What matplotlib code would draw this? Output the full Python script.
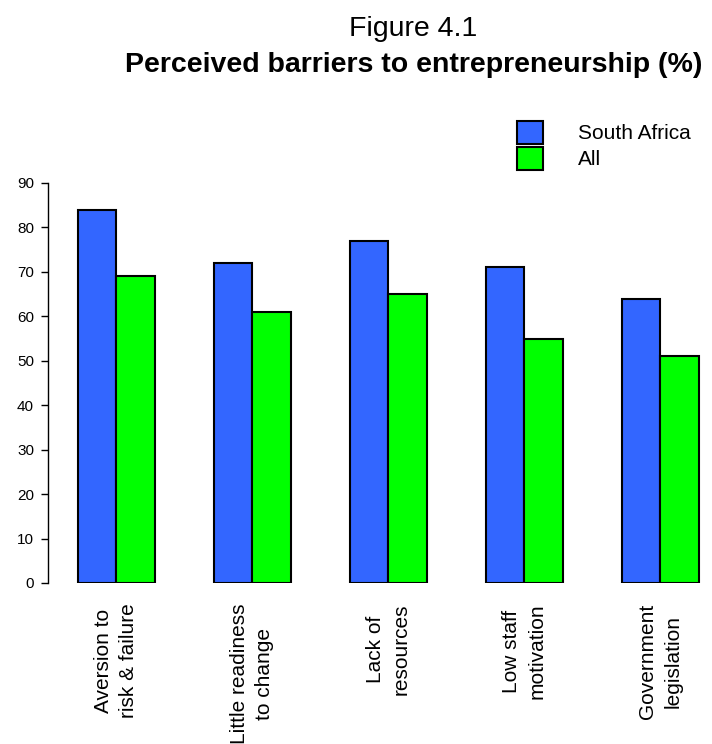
import numpy as np
import matplotlib
matplotlib.use("Agg")
import matplotlib.pyplot as plt

plt.rcParams['font.family'] = ['Liberation Sans', 'DejaVu Sans']

# Data
categories = ["Aversion to\nrisk & failure", "Little readiness\nto change",
              "Lack of\nresources", "Low staff\nmotivation", "Government\nlegislation"]
south_africa = [84, 72, 77, 71, 64]
all_countries = [69, 61, 65, 55, 51]
yticks = [0, 10, 20, 30, 40, 50, 60, 70, 80, 90]

fig = plt.figure(figsize=(7.12, 7.44), dpi=100)
ax = fig.add_axes([48 / 712, 161 / 744, 664 / 712, 400 / 744])

x = np.arange(len(categories))
w = 0.283
ax.bar(x - w / 2, south_africa, w, color="#3366FF", edgecolor="black",
       linewidth=1.5, label="South Africa")
ax.bar(x + w / 2, all_countries, w, color="#00FF00", edgecolor="black",
       linewidth=1.5, label="All")

ax.set_xlim(-0.5, 4.38)
ax.set_ylim(0, 90)
ax.set_yticks(yticks)
ax.tick_params(axis="y", direction="out", length=5, width=1, pad=5, labelsize=11)
ax.set_xticks([])

for s in ["top", "right", "bottom"]:
    ax.spines[s].set_visible(False)
ax.spines["left"].set_linewidth(1)

# category labels hang below the bars, rotated
for xi, lab in zip(x, categories):
    ax.text(xi, -4.6, lab, rotation=90, ha="center", va="top",
            multialignment="center", fontsize=15, linespacing=1.4,
            clip_on=False)

fig.text(413 / 712, 1 - 36 / 744, "Figure 4.1", ha="center", va="baseline", fontsize=20.5)
fig.text(414 / 712, 1 - 72 / 744, "Perceived barriers to entrepreneurship (%)",
         ha="center", va="baseline", fontsize=20.5, fontweight="bold")

ax.legend(loc="upper left", bbox_to_anchor=(517 / 712, 1 - 121 / 744),
          bbox_transform=fig.transFigure, frameon=False, fontsize=15,
          handlelength=1.25, handleheight=1.3, labelspacing=0.15,
          handletextpad=1.68, borderaxespad=0, borderpad=0)

fig.savefig("out.png", dpi=100)
